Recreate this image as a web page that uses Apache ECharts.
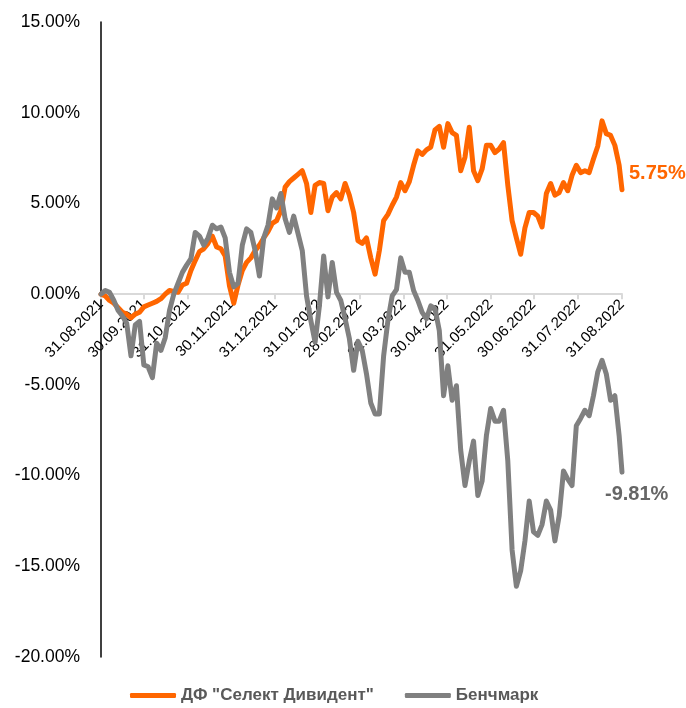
<!DOCTYPE html>
<html><head><meta charset="utf-8">
<script src="https://cdn.jsdelivr.net/npm/echarts@6/dist/echarts.min.js"></script>
<style>html,body{margin:0;padding:0;background:#fff}#c{width:686px;height:708px}</style>
</head><body><div id="c"></div>
<script>
const dates = ['2021-08-31','2021-09-03','2021-09-06','2021-09-09','2021-09-12','2021-09-15','2021-09-18','2021-09-21','2021-09-24','2021-09-27','2021-09-30','2021-10-03','2021-10-06','2021-10-09','2021-10-12','2021-10-15','2021-10-18','2021-10-21','2021-10-24','2021-10-27','2021-10-30','2021-11-02','2021-11-05','2021-11-08','2021-11-11','2021-11-14','2021-11-17','2021-11-20','2021-11-23','2021-11-26','2021-11-29','2021-12-02','2021-12-05','2021-12-08','2021-12-11','2021-12-14','2021-12-17','2021-12-20','2021-12-23','2021-12-26','2021-12-29','2022-01-01','2022-01-04','2022-01-07','2022-01-10','2022-01-13','2022-01-16','2022-01-19','2022-01-22','2022-01-25','2022-01-28','2022-01-31','2022-02-03','2022-02-06','2022-02-09','2022-02-12','2022-02-15','2022-02-18','2022-02-21','2022-02-24','2022-02-27','2022-03-02','2022-03-05','2022-03-08','2022-03-11','2022-03-14','2022-03-17','2022-03-20','2022-03-23','2022-03-26','2022-03-29','2022-04-01','2022-04-04','2022-04-07','2022-04-10','2022-04-13','2022-04-16','2022-04-19','2022-04-22','2022-04-25','2022-04-28','2022-05-01','2022-05-04','2022-05-07','2022-05-10','2022-05-13','2022-05-16','2022-05-19','2022-05-22','2022-05-25','2022-05-28','2022-05-31','2022-06-03','2022-06-06','2022-06-09','2022-06-12','2022-06-15','2022-06-18','2022-06-21','2022-06-24','2022-06-27','2022-06-30','2022-07-03','2022-07-06','2022-07-09','2022-07-12','2022-07-15','2022-07-18','2022-07-21','2022-07-24','2022-07-27','2022-07-30','2022-08-02','2022-08-05','2022-08-08','2022-08-11','2022-08-14','2022-08-17','2022-08-20','2022-08-23','2022-08-26','2022-08-29','2022-08-31'];

const fundName = 'ДФ "Селект Дивидент"';
const fund = [0,-0.1,-0.35,-0.5,-0.75,-1.0,-1.1,-1.3,-1.1,-1.0,-0.7,-0.6,-0.5,-0.4,-0.25,0.0,0.2,0.15,0.1,0.5,0.6,1.3,1.85,2.35,2.5,2.8,3.2,2.6,2.5,2.1,0.45,-0.5,0.5,1.3,1.75,2.0,2.4,2.7,3.1,3.45,3.9,4.05,4.6,5.9,6.2,6.4,6.6,6.8,6.1,4.5,6.0,6.15,6.1,4.6,5.35,5.6,5.25,6.1,5.45,4.5,2.95,2.8,3.1,2.0,1.1,2.4,4.05,4.4,4.9,5.35,6.15,5.7,6.2,7.1,7.9,7.7,7.95,8.1,9.05,9.25,8.1,9.4,8.9,8.75,6.8,7.55,9.2,6.8,6.25,6.9,8.2,8.2,7.8,8.0,8.35,6.0,4.05,3.1,2.2,3.65,4.5,4.5,4.3,3.7,5.55,6.1,5.45,5.6,6.15,5.7,6.55,7.1,6.7,6.8,6.7,7.45,8.15,9.55,8.85,8.75,8.2,7.1,5.75];

const benchName = 'Бенчмарк';
const bench = [0,0.2,0.1,-0.35,-0.9,-1.2,-1.6,-3.4,-1.7,-1.5,-3.9,-4.0,-4.6,-2.7,-3.1,-2.4,-0.9,0.0,0.6,1.2,1.6,1.95,3.4,3.2,2.7,3.1,3.8,3.6,3.7,3.1,1.2,0.4,0.6,2.7,3.6,3.4,2.4,1.0,3.1,3.8,5.25,4.75,5.55,4.15,3.4,4.3,3.35,2.4,-0.1,-1.45,-2.65,-0.65,2.1,-0.15,1.75,0.1,-0.35,-1.35,-2.45,-4.2,-2.6,-3.1,-4.4,-6.0,-6.6,-6.6,-3.4,-1.45,-0.1,0.25,2.0,1.2,1.2,0.2,-0.35,-1.0,-1.35,-0.65,-0.8,-2.0,-5.6,-3.95,-5.85,-5.05,-8.6,-10.55,-9.2,-8.1,-11.1,-10.3,-7.8,-6.3,-7.0,-7.0,-6.4,-9.2,-14.1,-16.1,-15.25,-13.6,-11.4,-13.1,-13.3,-12.7,-11.4,-11.9,-13.6,-12.2,-9.75,-10.2,-10.55,-7.25,-6.85,-6.4,-6.7,-5.6,-4.3,-3.65,-4.4,-5.85,-5.6,-7.8,-9.81];

const monthEnds = ['2021-08-31','2021-09-30','2021-10-31','2021-11-30','2021-12-31','2022-01-31','2022-02-28','2022-03-31','2022-04-30','2022-05-31','2022-06-30','2022-07-31','2022-08-31'];
const yMin = -20, yMax = 15, yStep = 5;

function ts(s){ const p = s.split('-').map(Number); return Date.UTC(p[0], p[1]-1, p[2]); }
function fmtDate(v){ const d = new Date(v); const p = n => (n<10?'0':'')+n; return p(d.getUTCDate())+'.'+p(d.getUTCMonth()+1)+'.'+d.getUTCFullYear(); }
const tickVals = monthEnds.map(ts);
const FONT = 'Liberation Sans, Arial, sans-serif';

const W = 686, H = 708, GL = 101, GR = 64, GT = 22, GB = 51;
const plotH = H - GT - GB;
const zeroFromBottom = plotH * (0 - yMin) / (yMax - yMin);

const chart = echarts.init(document.getElementById('c'), null, {renderer:'canvas', width: W, height: H});
chart.setOption({
  animation: false,
  backgroundColor: '#fff',
  grid: {left: GL, right: GR, top: GT, bottom: GB, containLabel: false, outerBoundsMode: 'none'},
  legend: {
    top: 682, left: 125, itemWidth: 46, itemHeight: 5, itemGap: 31, icon: 'roundRect',
    textStyle: {fontFamily: FONT, fontSize: 17, fontWeight: 'bold', color: '#595959'},
    data: [fundName, benchName]
  },
  xAxis: {
    type: 'value', min: tickVals[0], max: tickVals[tickVals.length-1],
    offset: -zeroFromBottom,
    axisLine: {onZero: false, lineStyle: {color: '#d9d9d9', width: 2}},
    axisTick: {show: true, length: 5, customValues: tickVals, lineStyle: {color: '#d9d9d9', width: 2}},
    axisLabel: {customValues: tickVals, rotate: 45, margin: 8, formatter: v => fmtDate(v),
      fontFamily: FONT, fontSize: 15, color: '#000'},
    splitLine: {show: false}
  },
  yAxis: {
    type: 'value', min: yMin, max: yMax, interval: yStep,
    axisLine: {show: true, lineStyle: {color: '#000', width: 1.5}},
    axisTick: {show: false}, splitLine: {show: false},
    axisLabel: {margin: 21, formatter: v => v.toFixed(2) + '%', fontFamily: FONT, fontSize: 17.5, color: '#000'}
  },
  series: [
    {name: fundName, type: 'line', symbol: 'none', showSymbol: false,
     data: dates.map((d,i) => [ts(d), fund[i]]),
     lineStyle: {color: '#FF6600', width: 5, cap: 'round', join: 'round'}, itemStyle: {color: '#FF6600'},
     endLabel: {show: true, formatter: p => p.value[1].toFixed(2) + '%', offset: [-1, -16],
       fontFamily: FONT, fontSize: 20, fontWeight: 'bold', color: '#FF6600'}},
    {name: benchName, type: 'line', symbol: 'none', showSymbol: false,
     data: dates.map((d,i) => [ts(d), bench[i]]),
     lineStyle: {color: '#808080', width: 5, cap: 'round', join: 'round'}, itemStyle: {color: '#808080'},
     endLabel: {show: true, formatter: p => p.value[1].toFixed(2) + '%', offset: [-25, 22],
       fontFamily: FONT, fontSize: 20, fontWeight: 'bold', color: '#666666'}}
  ]
});
</script></body></html>
